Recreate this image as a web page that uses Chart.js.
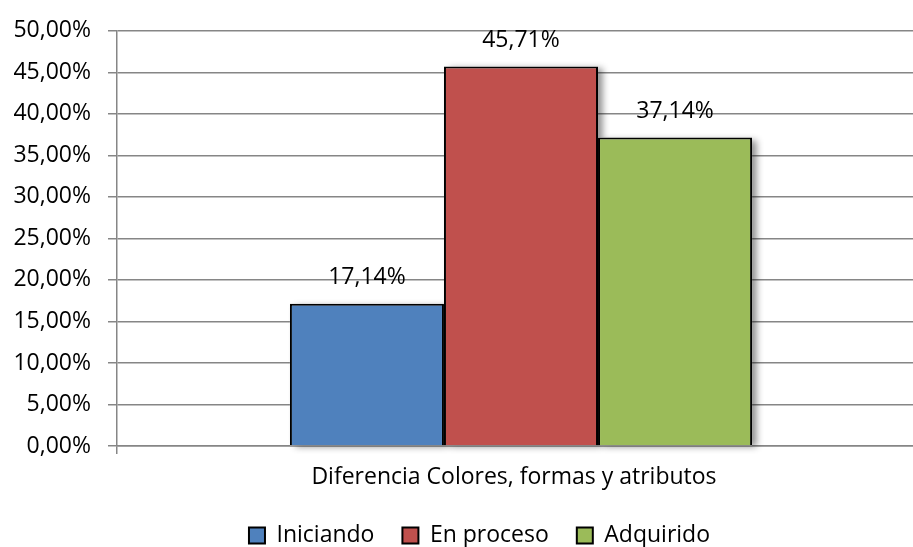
<!DOCTYPE html>
<html>
<head>
<meta charset="utf-8">
<script src="https://cdn.jsdelivr.net/npm/chart.js@4.4.1/dist/chart.umd.min.js"></script>
<style>
    html, body { margin: 0; padding: 0; background: #fff; }
    #wrap { width: 913px; height: 547px; }
</style>
</head>
<body>
<div id="wrap"><canvas id="chart"></canvas></div>
<script>
const categories = ["Diferencia Colores, formas y atributos"];
const seriesNames = ["Iniciando", "En proceso", "Adquirido"];
const iniciando = [17.14];
const enProceso = [45.71];
const adquirido = [37.14];
const colors = ["#4F81BD", "#C0504D", "#9BBB59"];

const FONT = "'Open Sans', 'Liberation Sans', sans-serif";

function pct(v) {
    return v.toFixed(2).replace(".", ",") + "%";
}

// drop shadow behind the bars (the bar element clips its own drawing,
// so the shadow is painted first from the element geometry)
const barShadow = {
    id: "barShadow",
    beforeDatasetsDraw(chart) {
        const ctx = chart.ctx;
        ctx.save();
        ctx.shadowColor = "rgba(0,0,0,0.45)";
        ctx.shadowBlur = 7;
        ctx.shadowOffsetX = 5;
        ctx.shadowOffsetY = 2;
        chart.data.datasets.forEach((ds, i) => {
            chart.getDatasetMeta(i).data.forEach((bar) => {
                const { x, y, base, width } = bar.getProps(["x", "y", "base", "width"], true);
                ctx.fillStyle = "#fff";
                ctx.fillRect(x - width / 2, y, width, base - y);
            });
        });
        ctx.restore();
    },
};

// value labels over the bars
const valueLabels = {
    id: "valueLabels",
    afterDatasetsDraw(chart) {
        const ctx = chart.ctx;
        ctx.save();
        ctx.font = "23px " + FONT;
        ctx.fillStyle = "#000";
        ctx.textAlign = "center";
        ctx.textBaseline = "middle";
        chart.data.datasets.forEach((ds, i) => {
            chart.getDatasetMeta(i).data.forEach((bar, j) => {
                ctx.fillText(pct(ds.data[j]), bar.x, bar.y - 26);
            });
        });
        ctx.restore();
    },
};

// plot area runs past the right edge of the picture in the original,
// and the legend sits a bit right of centre
const layoutTweak = {
    id: "layoutTweak",
    afterLayout(chart) {
        const x = chart.scales.x;
        x.right += 12;
        x.width += 12;
        x.configure();
        chart.chartArea.right += 12;
        chart.chartArea.width += 12;
        chart.legend.left += 23;
        chart.legend.right += 23;
    },
};

const datasets = [iniciando, enProceso, adquirido].map((d, i) => ({
    label: seriesNames[i],
    data: d,
    backgroundColor: colors[i],
    borderColor: "#000",
    borderWidth: 2,
    borderSkipped: "bottom",
    categoryPercentage: 0.572,
    barPercentage: 1.0,
}));

new Chart(document.getElementById("chart"), {
    type: "bar",
    data: { labels: categories, datasets: datasets },
    options: {
        animation: false,
        responsive: true,
        maintainAspectRatio: false,
        layout: { padding: { top: 29, right: 0, left: 0, bottom: -10 } },
        scales: {
            x: {
                grid: {
                    drawOnChartArea: false,
                    drawTicks: true,
                    tickLength: 8,
                    color: "#868686",
                    lineWidth: 1.5,
                },
                border: { color: "#868686", width: 1.5 },
                ticks: {
                    color: "#000",
                    font: { family: FONT, size: 23 },
                    padding: 10,
                    labelOffset: -7,
                },
                afterFit(scale) {
                    scale.height = 50;
                },
            },
            y: {
                min: 0,
                max: 50,
                ticks: {
                    stepSize: 5,
                    color: "#000",
                    font: { family: FONT, size: 23 },
                    padding: 17,
                    callback: (v) => pct(v),
                },
                grid: {
                    color: "#868686",
                    lineWidth: 1.5,
                    tickLength: 9,
                },
                border: { color: "#868686", width: 1.5 },
                afterFit(scale) {
                    scale.width = 117;
                },
            },
        },
        plugins: {
            legend: {
                position: "bottom",
                labels: {
                    color: "#000",
                    font: { family: FONT, size: 23 },
                    boxWidth: 16,
                    boxHeight: 16,
                    padding: 28,
                },
            },
            tooltip: { enabled: false },
        },
    },
    plugins: [barShadow, valueLabels, layoutTweak],
});
</script>
</body>
</html>
